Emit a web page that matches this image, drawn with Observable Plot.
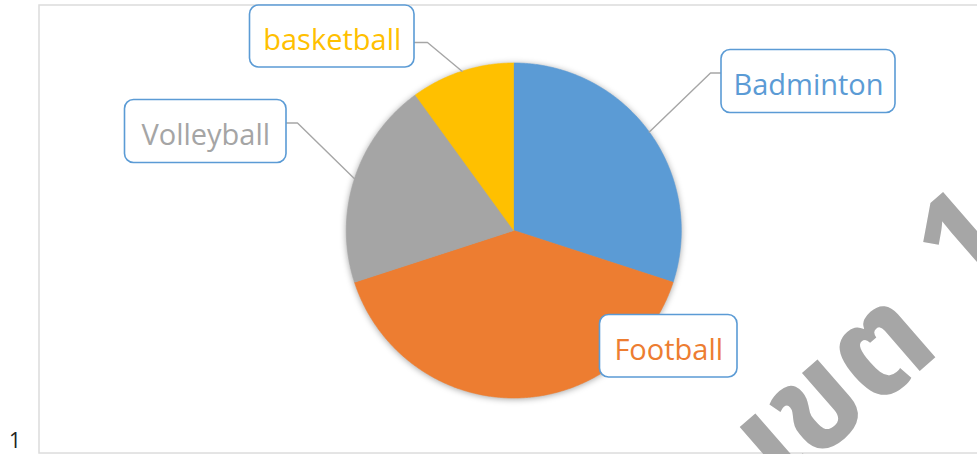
<!DOCTYPE html>
<html>
<head>
<meta charset="utf-8">
<script src="https://cdn.jsdelivr.net/npm/d3@7"></script>
<script src="https://cdn.jsdelivr.net/npm/@observablehq/plot@0.6"></script>
<style>
  html, body { margin: 0; padding: 0; background: white; }
  #chart svg { display: block; }
</style>
</head>
<body>
<div id="chart"></div>
<script>
// ---- data ----
const categories = ["Badminton", "Football", "Volleyball", "basketball"];
const values = [30, 40, 20, 10];
const colors = ["#5B9BD5", "#ED7D31", "#A5A5A5", "#FFC000"];
const watermarkWord = "เขต";
const watermarkNumber = "1";
const rowLabel = "1";

// ---- layout (pixels) ----
const W = 977, H = 454;
const pieGeom = {cx: 513.3, cy: 230, r: 167.5};
const labelBoxes = {
  Badminton:  {x1: 721, x2: 895, y1: 49.5, y2: 112.5, anchor: [721, 72.5], elbow: [710, 72.5]},
  Football:   {x1: 599.5, x2: 737, y1: 314.5, y2: 377, anchor: null, elbow: null},
  Volleyball: {x1: 124.5, x2: 286, y1: 99.5, y2: 162.5, anchor: [286, 122.5], elbow: [297, 122.5]},
  basketball: {x1: 249.5, x2: 414, y1: 5, y2: 67, anchor: [414, 42], elbow: [427, 42]}
};

// ---- geometry from data ----
const arcs = d3.pie().sort(null).value(d => d.value)(categories.map((c, i) => ({cat: c, value: values[i]})));
const pt = a => [pieGeom.cx + pieGeom.r * Math.sin(a), pieGeom.cy - pieGeom.r * Math.cos(a)];

const slicePoints = [];
for (const a of arcs) {
  slicePoints.push({cat: a.data.cat, x: pieGeom.cx, y: pieGeom.cy});
  const n = Math.max(2, Math.ceil((a.endAngle - a.startAngle) / (Math.PI / 360)));
  for (let k = 0; k <= n; k++) {
    const ang = a.startAngle + (a.endAngle - a.startAngle) * k / n;
    const [x, y] = pt(ang);
    slicePoints.push({cat: a.data.cat, x, y});
  }
}

const leaderPoints = [];
const boxRows = [];
for (const a of arcs) {
  const b = labelBoxes[a.data.cat];
  boxRows.push({cat: a.data.cat, ...b, cx: (b.x1 + b.x2) / 2, cy: (b.y1 + b.y2) / 2});
  if (b.anchor) {
    const [ex, ey] = pt((a.startAngle + a.endAngle) / 2);
    leaderPoints.push({cat: a.data.cat, x: ex, y: ey});
    leaderPoints.push({cat: a.data.cat, x: b.elbow[0], y: b.elbow[1]});
    leaderPoints.push({cat: a.data.cat, x: b.anchor[0], y: b.anchor[1]});
  }
}

const wmFont = "Tahoma, 'Noto Sans Thai', Loma, Garuda, 'TLWG Typist', sans-serif";

const plot = Plot.plot({
  width: W,
  height: H,
  marginLeft: 38.5,
  marginTop: 4.5,
  marginBottom: 1.5,
  marginRight: -5,
  x: {domain: [0, W], range: [0, W], axis: null},
  y: {domain: [0, H], range: [0, H], axis: null},
  color: {domain: categories, range: colors},
  style: {fontFamily: "'Open Sans', sans-serif", background: "white"},
  marks: [
    Plot.frame({stroke: "#dcdcdc", strokeWidth: 1.5}),
    Plot.text([watermarkWord], {
      frameAnchor: "bottom-right", dx: -40, dy: -102, rotate: -41,
      text: d => d, textAnchor: "end", lineAnchor: "bottom", fill: "#a6a6a6", fontSize: 138, fontWeight: "bold",
      fontFamily: wmFont
    }),
    Plot.text([watermarkNumber], {
      frameAnchor: "bottom-right", dx: 11, dy: -177, rotate: -41,
      text: d => d, textAnchor: "middle", lineAnchor: "bottom", fill: "#a6a6a6", fontSize: 135, fontWeight: "bold",
      fontFamily: wmFont
    }),
    Plot.line(slicePoints, {x: "x", y: "y", z: "cat", fill: "cat", stroke: "cat", strokeWidth: 0.6, curve: "linear"}),
    Plot.line(leaderPoints, {x: "x", y: "y", z: "cat", stroke: "#A6A6A6", strokeWidth: 1.4, curve: "linear"}),
    Plot.rect(boxRows, {x1: "x1", x2: "x2", y1: "y1", y2: "y2", rx: 9, fill: "white", stroke: "#5B9BD5", strokeWidth: 1.6}),
    Plot.text(boxRows, {x: "cx", y: "cy", dy: 4, text: "cat", fill: "cat", fontSize: 29}),
    Plot.text([rowLabel], {frameAnchor: "bottom-left", dx: -24, dy: -5, text: d => d, fill: "#222", fontSize: 21, textAnchor: "middle", lineAnchor: "bottom"})
  ]
});
// soft shadow on the pie
const gs = plot.querySelectorAll("g[aria-label='line']");
if (gs.length) gs[0].style.filter = "drop-shadow(0px 1px 3px rgba(0,0,0,0.35))";
document.getElementById("chart").appendChild(plot);
</script>
</body>
</html>
